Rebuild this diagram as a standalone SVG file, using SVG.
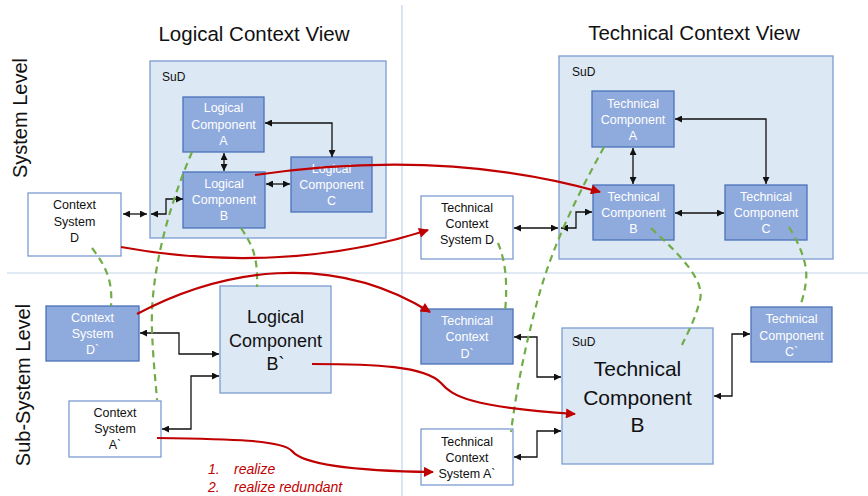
<svg xmlns="http://www.w3.org/2000/svg" width="868" height="496" viewBox="0 0 868 496">
<style>
text{font-family:"Liberation Sans",Arial,sans-serif;}
.dark{fill:#8faadc;stroke:#4a72b8;stroke-width:1.3;}
.light{fill:#dde8f5;stroke:#7b9bcf;stroke-width:1.3;}
.white{fill:#fff;stroke:#7b9bcf;stroke-width:1.3;}
.wt{fill:#fff;font-size:12.5px;text-anchor:middle;dominant-baseline:central;}
.bt{fill:#111;font-size:12.5px;text-anchor:middle;dominant-baseline:central;}
.title{fill:#111;font-size:20.5px;text-anchor:middle;dominant-baseline:central;}
.lvl{fill:#111;font-size:20px;text-anchor:middle;dominant-baseline:central;}
.sud{fill:#111;font-size:12px;dominant-baseline:central;}
.div{stroke:#c3d3ec;stroke-width:1.2;fill:none;}
.blk{stroke:#111;stroke-width:1.3;fill:none;marker-start:url(#ab);marker-end:url(#ab);}
.red{stroke:#c00000;stroke-width:2.2;fill:none;marker-end:url(#ar);}
.grn{stroke:#70ad47;stroke-width:2.2;fill:none;stroke-dasharray:7 5;}
.leg{fill:#c00000;font-size:14px;font-style:italic;dominant-baseline:central;}
</style>
<defs>
<marker id="ab" viewBox="0 0 10 10" refX="10" refY="5" markerWidth="7" markerHeight="7" markerUnits="userSpaceOnUse" orient="auto-start-reverse"><path d="M0,0 L10,5 L0,10 z" fill="#111"/></marker>
<marker id="ar" viewBox="0 0 10 10" refX="9" refY="5" markerWidth="12" markerHeight="10" markerUnits="userSpaceOnUse" orient="auto"><path d="M0,0 L10,5 L0,10 z" fill="#c00000"/></marker>
</defs>
<rect width="868" height="496" fill="#fff"/>
<g id="dividers">
<line class="div" x1="402" y1="5" x2="402" y2="496"/>
<line class="div" x1="7" y1="273" x2="868" y2="273"/>
</g>
<g id="titles">
<text class="title" x="254" y="33">Logical Context View</text>
<text class="title" x="694" y="32">Technical Context View</text>
<text class="lvl" transform="translate(20,118) rotate(-90)">System Level</text>
<text class="lvl" transform="translate(23,385) rotate(-90)">Sub-System Level</text>
</g>
<g id="sud-logical">
<rect class="light" x="150" y="61" width="236" height="177"/>
<text class="sud" x="162" y="77">SuD</text>
</g>
<g id="sud-technical">
<rect class="light" x="559" y="56" width="274" height="203"/>
<text class="sud" x="572" y="72">SuD</text>
</g>
<g id="logical-a">
<rect class="dark" x="183" y="97" width="81" height="55"/>
<text class="wt" x="223.5" y="108">Logical</text>
<text class="wt" x="223.5" y="124.5">Component</text>
<text class="wt" x="223.5" y="141">A</text>
</g>
<g id="logical-b">
<rect class="dark" x="183" y="172" width="82" height="56"/>
<text class="wt" x="224" y="184">Logical</text>
<text class="wt" x="224" y="200">Component</text>
<text class="wt" x="224" y="216">B</text>
</g>
<g id="logical-c">
<rect class="dark" x="291" y="157" width="81" height="55"/>
<text class="wt" x="331.5" y="169">Logical</text>
<text class="wt" x="331.5" y="185">Component</text>
<text class="wt" x="331.5" y="201">C</text>
</g>
<g id="context-d">
<rect class="white" x="28" y="193" width="93" height="63"/>
<text class="bt" x="74.5" y="205">Context</text>
<text class="bt" x="74.5" y="221.5">System</text>
<text class="bt" x="74.5" y="238">D</text>
</g>
<g id="technical-a">
<rect class="dark" x="592" y="91" width="82" height="56"/>
<text class="wt" x="633" y="104">Technical</text>
<text class="wt" x="633" y="120">Component</text>
<text class="wt" x="633" y="136">A</text>
</g>
<g id="technical-b">
<rect class="dark" x="593" y="185" width="81" height="55"/>
<text class="wt" x="633.5" y="197">Technical</text>
<text class="wt" x="633.5" y="213">Component</text>
<text class="wt" x="633.5" y="229">B</text>
</g>
<g id="technical-c">
<rect class="dark" x="725" y="185" width="82" height="55"/>
<text class="wt" x="766" y="197">Technical</text>
<text class="wt" x="766" y="213">Component</text>
<text class="wt" x="766" y="229">C</text>
</g>
<g id="technical-context-d">
<rect class="white" x="421" y="196" width="92" height="63"/>
<text class="bt" x="467" y="208">Technical</text>
<text class="bt" x="467" y="224">Context</text>
<text class="bt" x="467" y="240">System D</text>
</g>
<g id="context-d-prime">
<rect class="dark" x="46" y="306" width="93" height="55"/>
<text class="wt" x="92.5" y="318">Context</text>
<text class="wt" x="92.5" y="334">System</text>
<text class="wt" x="92.5" y="350">D`</text>
</g>
<g id="logical-b-prime">
<rect class="light" x="220" y="286" width="111" height="107"/>
<text class="bt" style="font-size:18px" x="275.5" y="317">Logical</text>
<text class="bt" style="font-size:18px" x="275.5" y="341">Component</text>
<text class="bt" style="font-size:18px" x="275.5" y="364">B`</text>
</g>
<g id="context-a-prime">
<rect class="white" x="69" y="401" width="92" height="56"/>
<text class="bt" x="115" y="413">Context</text>
<text class="bt" x="115" y="429">System</text>
<text class="bt" x="115" y="445">A`</text>
</g>
<g id="technical-context-d-prime">
<rect class="dark" x="421" y="309" width="92" height="55"/>
<text class="wt" x="467" y="321">Technical</text>
<text class="wt" x="467" y="337">Context</text>
<text class="wt" x="467" y="354">D`</text>
</g>
<g id="sud-technical-b">
<rect class="light" x="562" y="328" width="151" height="136"/>
<text class="sud" x="572" y="342">SuD</text>
<text class="bt" style="font-size:21px" x="637.5" y="368">Technical</text>
<text class="bt" style="font-size:21px" x="637.5" y="397">Component</text>
<text class="bt" style="font-size:21px" x="637.5" y="424">B</text>
</g>
<g id="technical-c-prime">
<rect class="dark" x="751" y="307" width="81" height="55"/>
<text class="wt" x="791.5" y="319">Technical</text>
<text class="wt" x="791.5" y="336">Component</text>
<text class="wt" x="791.5" y="352">C`</text>
</g>
<g id="technical-context-a-prime">
<rect class="white" x="421" y="429" width="92" height="56"/>
<text class="bt" x="467" y="442">Technical</text>
<text class="bt" x="467" y="458">Context</text>
<text class="bt" x="467" y="474">System A`</text>
</g>
<g id="connectors">
<polyline class="blk" points="265,123 332,123 332,157"/>
<line class="blk" x1="224" y1="153" x2="224" y2="171"/>
<line class="blk" x1="266" y1="184" x2="290" y2="184"/>
<line class="blk" x1="123" y1="214" x2="147" y2="214"/>
<polyline class="blk" points="151,214 166,214 166,199 183,199"/>
<polyline class="blk" points="675,119 766,119 766,184"/>
<line class="blk" x1="633" y1="148" x2="633" y2="184"/>
<line class="blk" x1="675" y1="213" x2="724" y2="213"/>
<line class="blk" x1="514" y1="228" x2="558" y2="228"/>
<polyline class="blk" points="561,228 576,228 576,212 592,212"/>
<polyline class="blk" points="140,333 179,333 179,354 219,354"/>
<polyline class="blk" points="162,429 191,429 191,376 219,376"/>
<polyline class="blk" points="514,337 537,337 537,377 561,377"/>
<polyline class="blk" points="514,457 537,457 537,431 561,431"/>
<polyline class="blk" points="714,396 732,396 732,334 750,334"/>
<path class="grn" d="M192,152 C165,215 150,280 152,330 C153,360 156,385 157,400"/>
<path class="grn" d="M241,228 C252,245 258,255 257,287"/>
<path class="grn" d="M92,248 C105,265 113,280 111,306"/>
<path class="grn" d="M604,147 C575,200 550,250 535,310 C522,360 515,400 511,432"/>
<path class="grn" d="M651,228 C680,255 705,280 700,300 C695,320 688,332 682,345"/>
<path class="grn" d="M789,227 C800,245 808,265 806,280 C805,292 802,300 800,307"/>
<path class="grn" d="M498,243 C505,260 508,280 505,312"/>
<path class="red" d="M255,175 C360,160 480,158 600,192"/>
<path class="red" d="M121,247 C220,265 330,262 428,230"/>
<path class="red" d="M137,314 C220,270 330,250 430,312"/>
<path class="red" d="M312,364 C375,364 425,366 441,383 C452,396 470,407 575,414"/>
<path class="red" d="M157,438 C230,439 282,440 292,451 C303,465 360,471 433,472"/>
</g>
<g id="legend">
<text class="leg" x="208" y="469">1.</text>
<text class="leg" x="234" y="469">realize</text>
<text class="leg" x="208" y="487">2.</text>
<text class="leg" x="234" y="487">realize redundant</text>
</g>
</svg>
